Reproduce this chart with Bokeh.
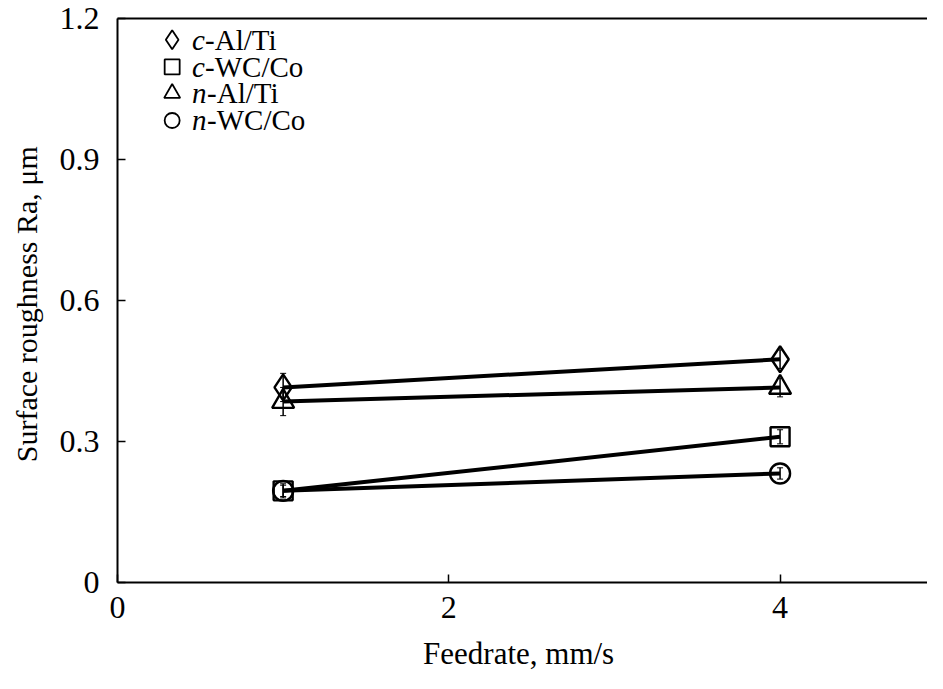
from bokeh.plotting import figure
from bokeh.models import LinearAxis, FixedTicker, Range1d, Whisker, ColumnDataSource
from bokeh.core.properties import value
from bokeh.embed import file_html
from bokeh.resources import INLINE

feed = [1, 4]
c_alti = [0.415, 0.475]
c_wcco = [0.195, 0.31]
n_alti = [0.385, 0.415]
n_wcco = [0.195, 0.232]
err_c_alti = [0.03, 0.02]
err_c_wcco = [0.015, 0.015]
err_n_alti = [0.03, 0.02]
err_n_wcco = [0.012, 0.012]
x_ticks = [0, 2, 4]
y_ticks = [0, 0.3, 0.6, 0.9, 1.2]
italic_part = ["c", "c", "n", "n"]
rest_part = ["-Al/Ti", "-WC/Co", "-Al/Ti", "-WC/Co"]
series_vals = [c_alti, c_wcco, n_alti, n_wcco]
series_err = [err_c_alti, err_c_wcco, err_n_alti, err_n_wcco]
markers = ["diamond", "square", "triangle", "circle"]
sizes = [26, 19, 22, 20]
leg_sizes = [19, 15, 16, 15]

FONT = "Liberation Serif"
p = figure(width=927, height=673, output_backend="svg", toolbar_location=None,
           x_range=Range1d(0, 4.89), y_range=Range1d(0, 1.2),
           x_axis_label="Feedrate,  mm/s", y_axis_label="Surface roughness Ra,  \u03bcm",
           min_border_left=117, min_border_top=18, min_border_right=0, min_border_bottom=87)
p.grid.visible = False
p.outline_line_color = None
p.background_fill_color = "white"

for ax in [p.xaxis[0], p.yaxis[0]]:
    ax.axis_line_width = 2
    ax.axis_line_color = "black"
    ax.major_tick_in = 8
    ax.major_tick_out = 0
    ax.major_tick_line_width = 1.5
    ax.minor_tick_line_color = None
    ax.major_label_text_font = FONT
    ax.major_label_text_font_size = "32px"
    ax.major_label_text_color = "black"
    ax.major_label_text_line_height = 0.9
    ax.axis_label_text_font = FONT
    ax.axis_label_text_font_style = "normal"
    ax.axis_label_text_color = "black"
    ax.axis_label_text_line_height = 0.8
p.xaxis[0].axis_label_text_font_size = "31px"
p.yaxis[0].axis_label_text_font_size = "30px"
p.xaxis[0].ticker = FixedTicker(ticks=x_ticks)
p.yaxis[0].ticker = FixedTicker(ticks=y_ticks)
p.xaxis[0].major_label_standoff = 14
p.xaxis[0].axis_label_standoff = 15
p.yaxis[0].major_label_standoff = 18
p.yaxis[0].axis_label_standoff = 14

top = LinearAxis(ticker=FixedTicker(ticks=[]), major_label_text_font_size="0px",
                 axis_line_width=2, major_tick_line_color=None, minor_tick_line_color=None)
p.add_layout(top, "above")

for vals, err in zip(series_vals, series_err):
    p.line(feed, vals, line_color="black", line_width=4)
    src = ColumnDataSource(dict(x=feed, lo=[v - e for v, e in zip(vals, err)],
                                hi=[v + e for v, e in zip(vals, err)]))
    w = Whisker(source=src, base="x", lower="lo", upper="hi", line_color="black", line_width=1.5)
    w.upper_head.size = 6
    w.lower_head.size = 6
    p.add_layout(w)

for vals, marker, size in zip(series_vals, markers, sizes):
    p.scatter(feed, vals, marker=marker, size=size, fill_color=None, line_color="black", line_width=2.4)

# legend (drawn by hand so the first letter can be italic)
leg_x = [0.33] * 4
leg_tx = [0.45] * 4
leg_y = [1.155, 1.097, 1.041, 0.983]
leg_off = [13 if s == "c" else 15 for s in italic_part]
for i in range(4):
    p.scatter([leg_x[i]], [leg_y[i]], marker=markers[i], size=leg_sizes[i], fill_color=None,
              line_color="black", line_width=1.8)
p.text(x=leg_tx, y=leg_y, text=italic_part, text_font=value(FONT), text_font_size="29px",
       text_font_style="italic", text_baseline="middle", text_color="black")
p.text(x=leg_tx, y=leg_y, text=rest_part, x_offset=leg_off, text_font=value(FONT),
       text_font_size="29px", text_baseline="middle", text_color="black")

open("out.html", "w").write(file_html(p, INLINE))
